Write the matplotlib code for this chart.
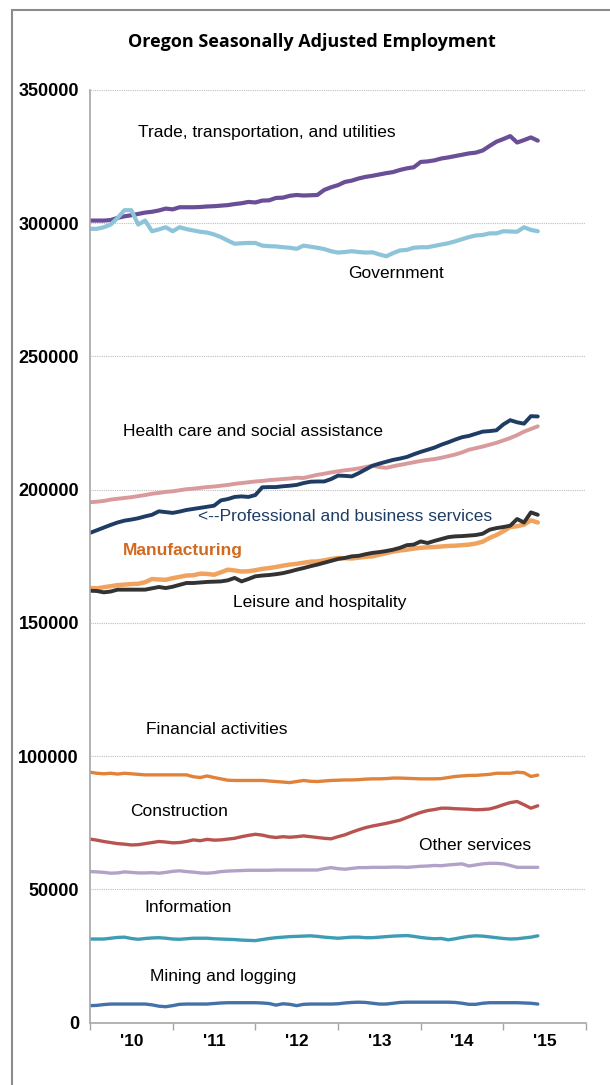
import numpy as np
import matplotlib
matplotlib.use("Agg")
import matplotlib.pyplot as plt
from matplotlib.patches import Rectangle

# ---- data (thousands of jobs, monthly, Jan 2010 onward) ----
year_labels = ["'10", "'11", "'12", "'13", "'14", "'15"]

trade = [301.0, 301.0, 301.0, 301.2, 302.0, 302.6,
         303.0, 303.5, 304.0, 304.3, 304.8, 305.5,
         305.2, 306.0, 306.0, 306.0, 306.1, 306.3,
         306.4, 306.6, 306.8, 307.2, 307.5, 308.0,
         307.8, 308.5, 308.6, 309.5, 309.6, 310.3,
         310.6, 310.4, 310.5, 310.6, 312.5, 313.5,
         314.3, 315.5, 316.0, 316.8, 317.4, 317.8,
         318.3, 318.8, 319.2, 320.0, 320.6, 321.0,
         323.0, 323.2, 323.6, 324.3, 324.7, 325.2,
         325.7, 326.2, 326.5, 327.3, 329.0, 330.6,
         331.6, 332.7, 330.3, 331.2, 332.2, 331.0]

government = [297.9, 297.9, 298.5, 299.5, 302.0, 304.9,
              304.9, 299.5, 301.0, 297.0, 297.7, 298.5,
              297.0, 298.5, 297.8, 297.3, 296.8, 296.5,
              295.8, 294.8, 293.5, 292.3, 292.5, 292.6,
              292.6, 291.6, 291.4, 291.3, 291.0, 290.8,
              290.4, 291.6, 291.2, 290.8, 290.3, 289.5,
              289.0, 289.2, 289.5, 289.2, 289.0, 289.1,
              288.3, 287.6, 288.8, 289.8, 290.0, 290.8,
              291.0, 291.0, 291.5, 292.0, 292.5, 293.2,
              294.0, 294.8, 295.4, 295.6, 296.2, 296.2,
              297.0, 296.9, 296.8, 298.5, 297.5, 297.0]

health = [195.3, 195.5, 195.8, 196.3, 196.6, 196.9,
          197.2, 197.6, 198.0, 198.5, 198.8, 199.2,
          199.4, 199.8, 200.2, 200.4, 200.7, 201.0,
          201.2, 201.5, 201.8, 202.2, 202.5, 202.8,
          203.1, 203.3, 203.6, 203.8, 204.0, 204.2,
          204.5, 204.4, 205.0, 205.6, 206.0, 206.5,
          206.9, 207.3, 207.6, 208.0, 208.5, 209.0,
          208.5, 208.2, 208.8, 209.3, 209.8, 210.3,
          210.8, 211.2, 211.5, 212.0, 212.6, 213.2,
          214.0, 215.0, 215.6, 216.2, 216.9, 217.6,
          218.5, 219.4, 220.5, 221.8, 222.8, 223.8]

professional = [183.8, 184.8, 185.8, 186.8, 187.7, 188.4,
                188.8, 189.3, 190.0, 190.6, 191.9, 191.6,
                191.3, 191.8, 192.4, 192.8, 193.2, 193.6,
                194.0, 196.0, 196.5, 197.3, 197.5, 197.3,
                198.0, 200.9, 201.0, 201.0, 201.3, 201.5,
                201.8, 202.5, 203.0, 203.1, 203.1, 204.0,
                205.3, 205.2, 205.0, 206.2, 207.6, 209.0,
                209.8, 210.5, 211.2, 211.7, 212.3, 213.3,
                214.2, 215.0, 215.8, 216.9, 217.8, 218.8,
                219.7, 220.2, 221.0, 221.8, 222.0, 222.3,
                224.5, 226.1, 225.3, 224.8, 227.6, 227.5]

manufacturing = [163.1, 163.0, 163.4, 163.8, 164.2, 164.4,
                 164.6, 164.7, 165.3, 166.5, 166.3, 166.2,
                 166.8, 167.3, 167.8, 167.9, 168.5, 168.4,
                 168.1, 169.0, 170.0, 169.7, 169.3, 169.4,
                 169.8, 170.3, 170.6, 171.0, 171.5, 171.9,
                 172.2, 172.6, 173.0, 173.1, 173.5, 174.0,
                 174.4, 174.3, 174.2, 174.5, 174.8, 175.0,
                 175.6, 176.2, 176.8, 177.2, 177.5, 177.9,
                 178.2, 178.4, 178.5, 178.7, 178.9, 179.0,
                 179.2, 179.4, 179.8, 180.5, 181.9, 183.0,
                 184.4, 186.0, 186.3, 186.9, 188.5, 187.7]

leisure = [162.1, 162.0, 161.5, 161.8, 162.5, 162.5,
           162.5, 162.5, 162.5, 163.0, 163.5, 163.1,
           163.6, 164.3, 165.0, 165.0, 165.2, 165.4,
           165.5, 165.6, 166.0, 166.9, 165.6, 166.5,
           167.5, 167.8, 168.0, 168.3, 168.7, 169.3,
           170.0, 170.6, 171.3, 171.9, 172.6, 173.3,
           174.0, 174.4, 175.0, 175.2, 175.8, 176.3,
           176.6, 177.0, 177.5, 178.2, 179.2, 179.4,
           180.6, 180.0, 180.8, 181.5, 182.2, 182.5,
           182.6, 182.8, 183.0, 183.5, 185.0, 185.6,
           186.0, 186.5, 189.0, 187.7, 191.5, 190.6]

financial = [94.0, 93.6, 93.4, 93.6, 93.3, 93.6,
             93.4, 93.2, 93.0, 93.0, 93.0, 93.0,
             93.0, 93.0, 93.0, 92.3, 92.0, 92.6,
             92.0, 91.5, 91.0, 90.9, 90.9, 90.9,
             90.9, 90.9, 90.7, 90.5, 90.3, 90.1,
             90.5, 90.9, 90.6, 90.5, 90.7, 90.9,
             91.0, 91.1, 91.1, 91.2, 91.4, 91.5,
             91.5, 91.6, 91.8, 91.8, 91.7, 91.6,
             91.5, 91.5, 91.5, 91.6, 92.0, 92.4,
             92.6, 92.8, 92.8, 93.0, 93.2, 93.6,
             93.6, 93.6, 94.0, 93.8, 92.4, 92.9]

construction = [68.9, 68.5, 68.0, 67.6, 67.2, 67.0,
                66.7, 66.8, 67.2, 67.6, 68.0, 67.8,
                67.5, 67.6, 68.0, 68.6, 68.3, 68.8,
                68.5, 68.6, 68.9, 69.2, 69.8, 70.3,
                70.7, 70.4, 69.8, 69.5, 69.8, 69.6,
                69.8, 70.1, 69.8, 69.5, 69.2, 69.0,
                69.8, 70.5, 71.5, 72.4, 73.2, 73.8,
                74.3, 74.8, 75.4, 76.0, 77.0, 78.0,
                78.9, 79.6, 80.0, 80.5, 80.5, 80.3,
                80.2, 80.1, 79.9, 80.0, 80.2, 80.9,
                81.8, 82.6, 83.0, 81.8, 80.5, 81.4]

other = [56.7, 56.6, 56.4, 56.1, 56.2, 56.6,
         56.4, 56.2, 56.2, 56.3, 56.1, 56.4,
         56.8, 57.0, 56.7, 56.5, 56.2, 56.1,
         56.3, 56.7, 56.9, 57.0, 57.1, 57.2,
         57.2, 57.2, 57.2, 57.3, 57.3, 57.3,
         57.3, 57.3, 57.3, 57.3, 57.8, 58.2,
         57.8, 57.6, 57.9, 58.2, 58.2, 58.3,
         58.3, 58.3, 58.4, 58.4, 58.3, 58.5,
         58.7, 58.8, 59.0, 58.9, 59.2, 59.4,
         59.6, 58.8, 59.2, 59.6, 59.8, 59.8,
         59.6, 59.0, 58.3, 58.3, 58.3, 58.3]

information = [31.4, 31.4, 31.4, 31.7, 32.0, 32.1,
               31.6, 31.3, 31.6, 31.8, 31.9, 31.7,
               31.4, 31.3, 31.5, 31.7, 31.7, 31.7,
               31.5, 31.4, 31.3, 31.2, 31.0, 30.9,
               30.8, 31.2, 31.6, 31.9, 32.1, 32.3,
               32.4, 32.5, 32.6, 32.4, 32.1, 31.9,
               31.7, 31.9, 32.1, 32.1, 31.9, 31.9,
               32.1, 32.3, 32.5, 32.6, 32.7, 32.4,
               32.0, 31.7, 31.5, 31.6, 31.1, 31.5,
               32.0, 32.4, 32.6, 32.5, 32.2, 31.9,
               31.6, 31.4, 31.5, 31.8, 32.1, 32.6]

mining = [6.4, 6.5, 6.8, 7.0, 7.0, 7.0,
          7.0, 7.0, 7.0, 6.7, 6.2, 6.0,
          6.4, 6.9, 7.0, 7.0, 7.0, 7.0,
          7.2, 7.4, 7.5, 7.5, 7.5, 7.5,
          7.5, 7.4, 7.2, 6.6, 7.1, 6.9,
          6.4, 6.9, 7.0, 7.0, 7.0, 7.0,
          7.1, 7.4, 7.6, 7.7, 7.6, 7.3,
          7.0, 7.0, 7.3, 7.6, 7.7, 7.7,
          7.7, 7.7, 7.7, 7.7, 7.7, 7.6,
          7.3, 6.9, 6.9, 7.3, 7.5, 7.5,
          7.5, 7.5, 7.5, 7.4, 7.3, 7.0]

series = [
    ("Trade", trade, "#6A4E96", 3.0),
    ("Government", government, "#8DC4D9", 3.0),
    ("Health", health, "#D99A9C", 2.8),
    ("Professional", professional, "#1F3C64", 2.8),
    ("Manufacturing", manufacturing, "#F0A35E", 3.2),
    ("Leisure", leisure, "#333333", 2.8),
    ("Financial", financial, "#E0823A", 2.4),
    ("Construction", construction, "#B85450", 2.4),
    ("Other", other, "#B3A2C8", 2.4),
    ("Information", information, "#3E9DB4", 2.4),
    ("Mining", mining, "#4472A8", 2.4),
]

W, H = 610, 1085
fig = plt.figure(figsize=(W / 100, H / 100), dpi=100)
fig.patch.set_facecolor("white")

# outer frame
fig.patches.append(Rectangle((12 / W, -0.02), 1.1, 1 - 10 / H + 0.02,
                             transform=fig.transFigure, fill=False,
                             edgecolor="#8C8C8C", linewidth=1.5))

ax = fig.add_axes([90 / W, (H - 1022.7) / H, 496 / W, 932.7 / H])
ax.set_facecolor("white")

for name, vals, color, lw in series:
    x = np.arange(len(vals))
    ax.plot(x, np.array(vals) * 1000, color=color, linewidth=lw,
            solid_joinstyle="round", solid_capstyle="round")

ax.set_xlim(0, 72)
ax.set_ylim(0, 350000)
ax.set_yticks(np.arange(0, 350001, 50000))
ax.set_yticklabels([str(v) for v in range(0, 350001, 50000)],
                   fontsize=13, fontweight="bold", family="Liberation Sans")
ax.tick_params(axis="y", length=0, pad=8)
ax.grid(axis="y", color="#BFBFBF", linestyle=(0, (1, 1)), linewidth=0.8)
ax.set_axisbelow(True)

ax.set_xticks(np.arange(0, 73, 12))
ax.set_xticklabels([])
ax.set_xticks(np.arange(6, 72, 12), minor=True)
ax.set_xticklabels(year_labels, minor=True, fontsize=12.5, fontweight="bold",
                   family="Liberation Sans")
ax.tick_params(axis="x", which="major", length=5, color="#A6A6A6", width=1)
ax.tick_params(axis="x", which="minor", length=0, pad=8)

for s in ["top", "right"]:
    ax.spines[s].set_visible(False)
for s in ["left", "bottom"]:
    ax.spines[s].set_color("#A6A6A6")
    ax.spines[s].set_linewidth(1.2)

fig.text(312 / W, 1 - 42 / H, "Oregon Seasonally Adjusted Employment",
         ha="center", va="center", fontsize=13, fontweight="bold",
         family="Open Sans")

lab_font = dict(fontsize=12.5, family="Liberation Sans", va="center",
                ha="left")
labels = [
    (138, 133, "Trade, transportation, and utilities", "black", "normal"),
    (348, 273, "Government", "black", "normal"),
    (123, 431, "Health care and social assistance", "black", "normal"),
    (198, 516, "<--Professional and business services", "#1F3C64", "normal"),
    (123, 550, "Manufacturing", "#D2691E", "bold"),
    (233, 603, "Leisure and hospitality", "black", "normal"),
    (146, 729, "Financial activities", "black", "normal"),
    (130, 812, "Construction", "black", "normal"),
    (419, 845, "Other services", "black", "normal"),
    (144, 908, "Information", "black", "normal"),
    (150, 976, "Mining and logging", "black", "normal"),
]
for px, py, txt, col, fw in labels:
    fig.text(px / W, 1 - py / H, txt, color=col, fontweight=fw, **lab_font)

fig.savefig("out.png", dpi=100)
